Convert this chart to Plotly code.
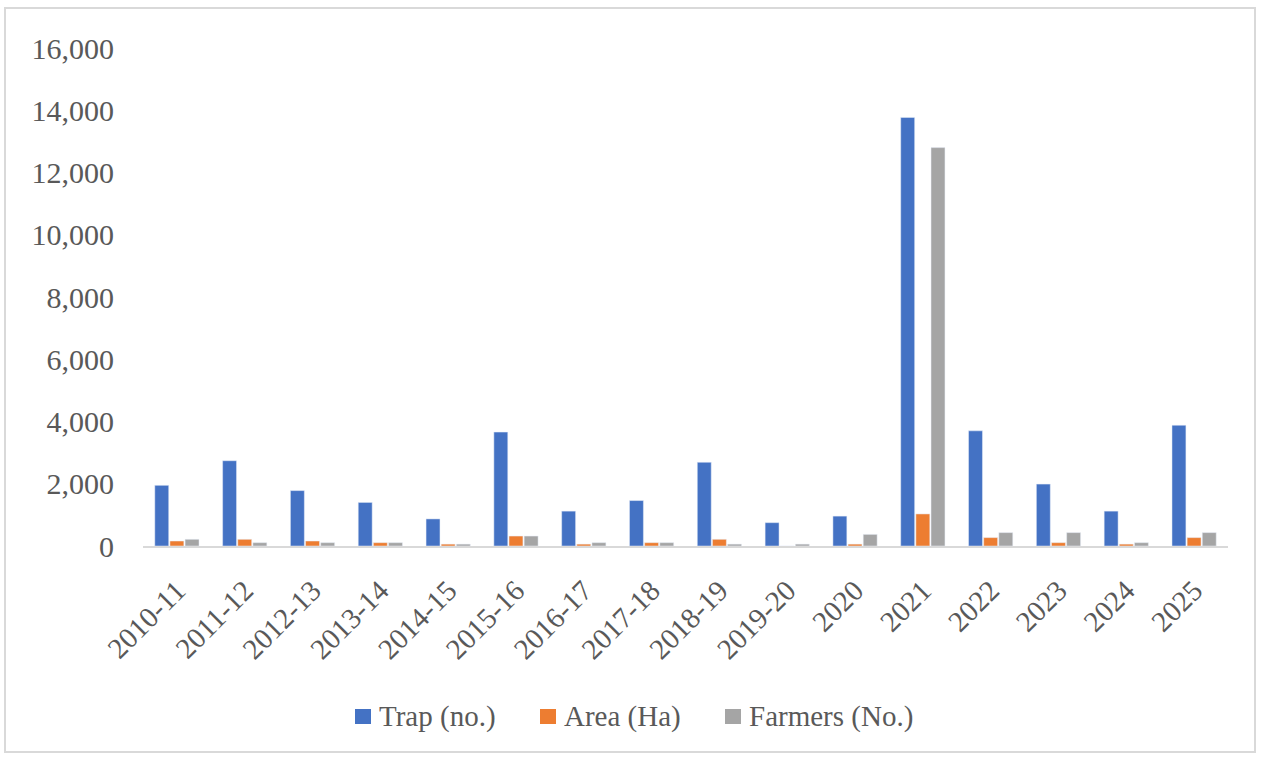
import plotly.graph_objects as go

years = ["2010-11", "2011-12", "2012-13", "2013-14", "2014-15", "2015-16", "2016-17",
         "2017-18", "2018-19", "2019-20", "2020", "2021", "2022", "2023", "2024", "2025"]
trap = [1950, 2740, 1780, 1400, 870, 3660, 1120, 1460, 2690, 750, 960, 13770, 3700, 1990, 1120, 3880]
area = [160, 215, 160, 107, 60, 320, 60, 107, 215, 0, 60, 1030, 270, 107, 60, 270]
farmers = [215, 107, 107, 107, 60, 320, 107, 107, 60, 60, 373, 12800, 430, 430, 107, 430]

series = [("Trap (no.)", trap, "#4472C4"),
          ("Area (Ha)", area, "#ED7D31"),
          ("Farmers (No.)", farmers, "#A5A5A5")]

W, H = 1261, 757
L, R, T, B = 143, 33, 48, 211
PW, PH = W - L - R, H - T - B


def px(x):
    return (x - L) / PW


def py(y):
    return (H - B - y) / PH


fig = go.Figure()
for name, vals, col in series:
    fig.add_trace(go.Bar(x=years, y=vals, name=name,
                         marker=dict(color=col, line=dict(color="#e8eef8", width=0.5))))

# compact Excel-style legend: colour square + label
legend_sq = [355, 540, 725]
ann, shapes = [], []
for (name, _, col), sx in zip(series, legend_sq):
    shapes.append(dict(type="rect", xref="paper", yref="paper",
                       x0=px(sx), x1=px(sx + 16), y0=py(724), y1=py(709),
                       line=dict(width=0), fillcolor=col))
    ann.append(dict(xref="paper", yref="paper", x=px(sx + 22), y=py(716),
                    xanchor="left", yanchor="middle", showarrow=False, text=name,
                    font=dict(family="Liberation Serif", size=29, color="#595959")))

shapes.append(dict(type="rect", xref="paper", yref="paper",
                   x0=px(5), x1=px(1255), y0=py(752), y1=py(8),
                   line=dict(color="#d9d9d9", width=2), fillcolor="rgba(0,0,0,0)", layer="below"))

fig.update_layout(
    width=W, height=H,
    margin=dict(l=L, r=R, t=T, b=B),
    paper_bgcolor="white", plot_bgcolor="white",
    font=dict(family="Liberation Serif", size=22, color="#595959"),
    barmode="group", bargap=0.33, bargroupgap=0.08,
    showlegend=False,
    annotations=ann,
    shapes=shapes,
    xaxis=dict(showgrid=False, showline=True, linecolor="#d9d9d9", linewidth=2,
               tickangle=-45, ticks="", ticklabelstandoff=14,
               tickfont=dict(family="Liberation Serif", size=29, color="#595959")),
    yaxis=dict(range=[0, 16000], dtick=2000, tickformat=",", showgrid=False, showline=False,
               zeroline=False, ticks="", ticklabelstandoff=28,
               tickfont=dict(family="Liberation Serif", size=30, color="#595959")),
)

fig.write_html("out.html")
